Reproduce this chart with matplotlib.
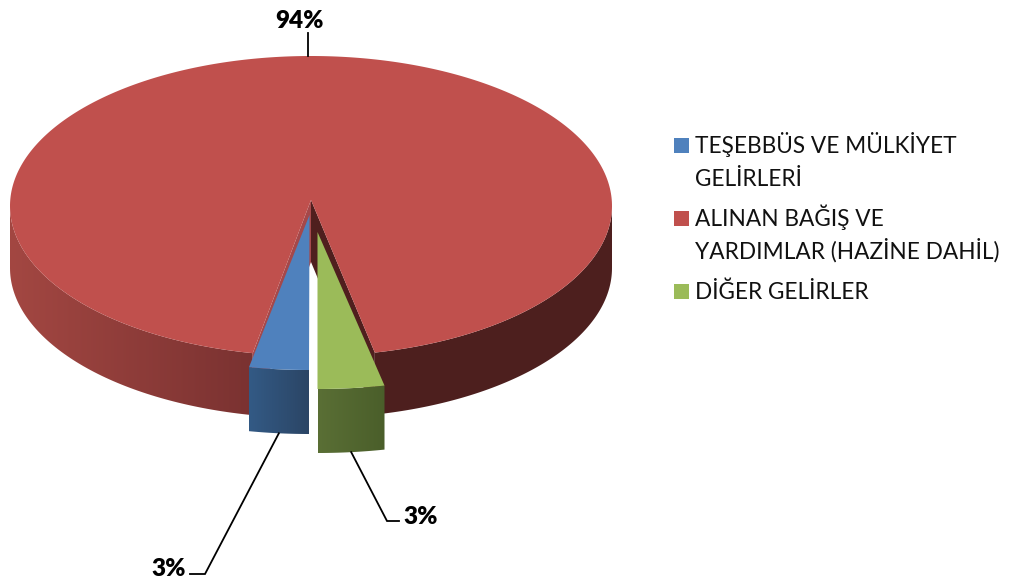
import numpy as np
import matplotlib
matplotlib.use('Agg')
import matplotlib.pyplot as plt
from matplotlib.colors import LinearSegmentedColormap
from matplotlib.patches import Polygon, Rectangle

plt.rcParams['font.family'] = ['Lato', 'DejaVu Sans']

# data
legend_lines = ['TEŞEBBÜS VE MÜLKİYET\nGELİRLERİ', 'ALINAN BAĞIŞ VE\nYARDIMLAR (HAZİNE DAHİL)', 'DİĞER GELİRLER']
shares = [3.1, 93.5, 3.4]
colors = ['#4F81BD', '#C0504D', '#9BBB59']

W, H = 1015, 578
CX, CY, RX, RY = 311, 206, 301, 150
DEPTH = 63
APEX_RED = (311, 200)


def rim(phi, dx=0, dy=0, k=1.0):
    # phi in degrees, clockwise from the front of the disc
    t = np.radians(phi)
    return np.column_stack([CX + dx - RX * k * np.sin(t), CY + dy + RY * np.cos(t)])


def grad_fill(ax, pts, c0, c1, z):
    cmap = LinearSegmentedColormap.from_list('g', [c0, c1])
    x0, x1 = pts[:, 0].min(), pts[:, 0].max()
    y0, y1 = pts[:, 1].min(), pts[:, 1].max()
    im = ax.imshow(np.linspace(0, 1, 256)[None, :], cmap=cmap, extent=(x0, x1, y1, y0),
                   aspect='auto', zorder=z, interpolation='bilinear')
    clip = Polygon(pts, closed=True, transform=ax.transData)
    im.set_clip_path(clip)


fig = plt.figure(figsize=(W / 100, H / 100), dpi=100, facecolor='white')
ax = fig.add_axes([0, 0, 1, 1])
ax.axis('off')

edges = np.cumsum([0] + shares) * 3.6
b0, b1 = edges[0], edges[1]
r0, r1 = edges[1], edges[2]
g0, g1 = edges[2], edges[3]

# red outer wall, left and right of the gap
left = rim(np.linspace(r0, 90, 80))
grad_fill(ax, np.vstack([left, (left + [0, DEPTH - 1])[::-1]]), '#A34742', '#7A3231', 1)
right = rim(np.linspace(270, r1, 120))
ax.add_patch(Polygon(np.vstack([right, (right + [0, DEPTH - 1])[::-1]]), fc='#4D1F1E', ec='none', zorder=1))

# red inner walls
a = np.array(APEX_RED, dtype=float)
pl = rim([r0])[0]
ax.add_patch(Polygon([a, pl, pl + [0, DEPTH - 1], a + [0, DEPTH - 1]], fc='#A5484A', ec='none', zorder=2))
pr = rim([r1])[0]
ax.add_patch(Polygon([a, pr, pr + [0, DEPTH - 1], a + [0, DEPTH - 1]], fc='#4F1F1E', ec='none', zorder=2))

# red top
top = np.vstack([[a], rim(np.linspace(r0, r1, 400))])
ax.add_patch(Polygon(top, fc=colors[1], ec='none', zorder=3))

# blue slice, pulled out
DX_B, DY_B, APEX_B = -2, 14, np.array([309.5, 215])
arc = rim(np.linspace(b1, b0, 30), DX_B, DY_B, 1.03)
grad_fill(ax, np.vstack([arc, (arc + [0, DEPTH + 1])[::-1]]), '#335A85', '#2B4565', 4)
ax.add_patch(Polygon(np.vstack([[APEX_B], arc]), fc=colors[0], ec='none', zorder=5))

# green slice, pulled out
DX_G, DY_G, APEX_G = 6.5, 33, np.array([317.5, 232])
arc = rim(np.linspace(360, g0, 30), DX_G, DY_G, 1.05)
grad_fill(ax, np.vstack([arc, (arc + [0, DEPTH + 1])[::-1]]), '#5A6F35', '#4A5E2A', 4)
ax.add_patch(Polygon(np.vstack([[APEX_G], arc]), fc=colors[2], ec='none', zorder=5))

# data labels with leader lines
blue_foot = rim([(b0 + b1) / 2], DX_B, DY_B + DEPTH + 1, 1.03)[0]
green_foot = rim([(g0 + g1) / 2], DX_G, DY_G + DEPTH + 1, 1.05)[0]
red_foot = rim([(r0 + r1) / 2])[0]
lead = dict(color='black', lw=1.3, zorder=6, solid_joinstyle='miter')
ax.plot([red_foot[0], red_foot[0]], [red_foot[1], 33], **lead)
ax.plot([green_foot[0], 387, 399], [green_foot[1], 521, 521], **lead)
ax.plot([blue_foot[0], 205, 190], [blue_foot[1], 574, 574], **lead)
lab = dict(fontsize=17.5, fontweight='heavy', ha='center', va='center', color='black', zorder=7)
ax.text(300, 21, f'{shares[1]:.0f}%', **lab)
ax.text(421, 517, f'{shares[2]:.0f}%', **lab)
ax.text(169, 569, f'{shares[0]:.0f}%', **lab)

# legend, one text per line so the spacing stays even
sq_y = [138, 211, 284]
for y, c, s in zip(sq_y, colors, legend_lines):
    ax.add_patch(Rectangle((674, y), 15, 15, fc=c, ec='none', zorder=7))
    for i, line in enumerate(s.split('\n')):
        ax.text(695, y + 15 + i * 32.5, line, fontsize=16.3, ha='left', va='baseline', color='#111111', zorder=7)

ax.set_xlim(0, W)
ax.set_ylim(H, 0)
fig.savefig('out.png', dpi=100)
